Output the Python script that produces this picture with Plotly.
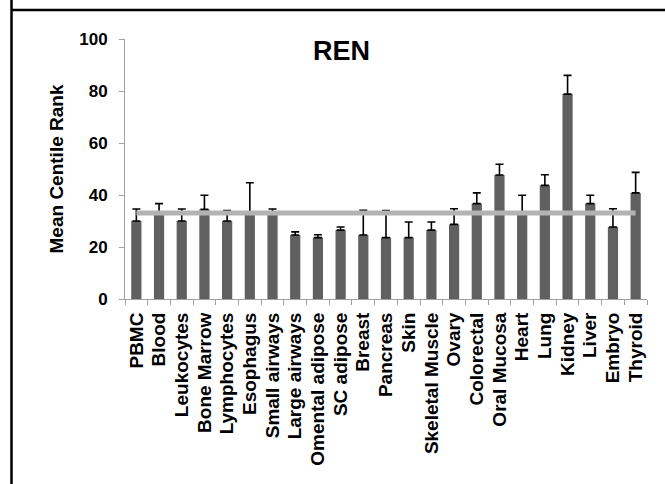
import plotly.graph_objects as go

categories = ["PBMC", "Blood", "Leukocytes", "Bone Marrow", "Lymphocytes", "Esophagus",
              "Small airways", "Large airways", "Omental adipose", "SC adipose", "Breast",
              "Pancreas", "Skin", "Skeletal Muscle", "Ovary", "Colorectal", "Oral Mucosa",
              "Heart", "Lung", "Kidney", "Liver", "Embryo", "Thyroid"]
means = [30, 32.6, 30, 34.5, 30, 32.8, 33, 24.6, 23.6, 26.5, 24.6, 23.6, 23.6, 26.5,
         28.7, 36.7, 47.7, 33, 43.7, 78.8, 36.7, 27.7, 40.8]
upper = [34.6, 36.7, 34.6, 39.9, 34, 44.7, 34.6, 25.8, 24.7, 27.7, 34.1, 34, 29.6, 29.6,
         34.7, 40.8, 51.8, 39.9, 47.8, 86, 39.9, 34.7, 48.7]
overall_mean = 33.1
y_ticks = [0, 20, 40, 60, 80, 100]

err_plus = [u - m for u, m in zip(upper, means)]
font_family = "Arial, Liberation Sans, sans-serif"

fig = go.Figure()
fig.add_trace(go.Bar(
    x=categories, y=means,
    marker=dict(color="#606060", line=dict(width=0)),
    error_y=dict(type="data", array=err_plus, arrayminus=[0] * len(means), symmetric=False,
                 color="black", thickness=1.6, width=4),
    showlegend=False,
))
fig.add_trace(go.Scatter(
    x=categories, y=[overall_mean] * len(categories), mode="lines",
    line=dict(color="#b3b3b3", width=5), showlegend=False,
))

fig.update_layout(
    width=665, height=484,
    margin=dict(l=125, r=18, t=39, b=185),
    paper_bgcolor="white", plot_bgcolor="white",
    bargap=0.55,
    font=dict(family=font_family, color="black"),
    annotations=[dict(text="REN", x=0.415, y=0.955, xref="paper", yref="paper",
                      xanchor="center", yanchor="middle", showarrow=False,
                      font=dict(size=27, family=font_family, weight="bold"))],
    shapes=[
        dict(type="line", xref="paper", yref="paper", x0=-0.2174, x1=-0.2174, y0=-0.72, y1=1.16,
             line=dict(color="black", width=2.5)),
        dict(type="line", xref="paper", yref="paper", x0=-0.2174, x1=1.04, y0=1.1115, y1=1.1115,
             line=dict(color="black", width=2.5)),
    ],
)
fig.update_xaxes(
    type="category", tickmode="array", tickvals=categories, ticktext=categories,
    tickangle=-90, tickson="boundaries", ticks="outside", ticklen=5,
    tickcolor="#a0a0a0", showline=True, linecolor="#a0a0a0", linewidth=1,
    tickfont=dict(size=19, family=font_family, weight="bold"),
    ticklabelstandoff=5, automargin=False,
    showgrid=False,
)
fig.update_yaxes(
    range=[0, 100], tickvals=y_ticks, ticks="outside", ticklen=5, tickcolor="#a0a0a0",
    showline=True, linecolor="#a0a0a0", linewidth=1, showgrid=False, zeroline=False,
    tickfont=dict(size=17, family=font_family, weight="bold"),
    ticklabelstandoff=8, automargin=False,
    title=dict(text="Mean Centile Rank", font=dict(size=19, family=font_family, weight="bold"),
               standoff=10),
)

fig.write_html("out.html")
